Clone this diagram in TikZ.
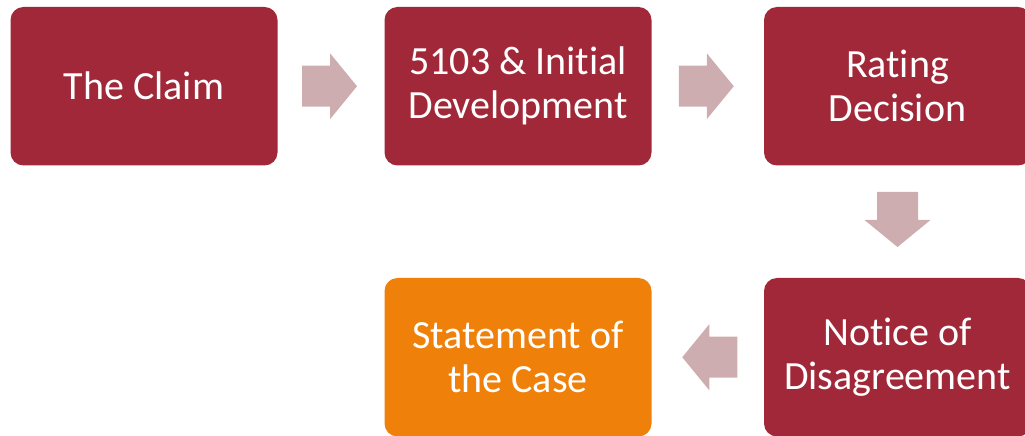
\documentclass[tikz,border=0pt]{standalone}
\usepackage{fontspec}
\setmainfont{Carlito}[Ligatures=NoCommon]
\usetikzlibrary{calc}
\definecolor{boxred}{HTML}{A02838}
\definecolor{boxorange}{HTML}{EF800A}
\definecolor{arrowpink}{HTML}{CEADB0}
\tikzset{
  stagebox/.style={rectangle, rounded corners=13pt, fill=boxred, text=white,
    minimum width=267pt, minimum height=158.5pt, inner sep=0pt, align=center,
    font=\fontsize{40}{44}\selectfont},
  blockarrow/.pic={
    \fill[arrowpink] (-27.5,-20.5) -- (0.5,-20.5) -- (0.5,-33) -- (27.5,0)
      -- (0.5,33) -- (0.5,20.5) -- (-27.5,20.5) -- cycle;
  }
}
\begin{document}
\begin{tikzpicture}[x=1pt,y=1pt]
\useasboundingbox (0,0) rectangle (1025,436);
\node[stagebox] (claim) at (144,349.75) {The Claim};
\node[stagebox] (dev) at (518,349.75) {5103 \& Initial\\Development};
\node[stagebox] (rating) at (897.5,349.75) {Rating\\Decision};
\node[stagebox] (nod) at (897.5,78.75) {Notice of\\Disagreement};
\node[stagebox, fill=boxorange] (soc) at (518,78.75) {Statement of\\the Case};
\pic at ($($(claim.east)!0.5!(dev.west)$)+(-1.5,0)$) {blockarrow};
\pic at ($($(dev.east)!0.5!(rating.west)$)+(-1.5,0)$) {blockarrow};
\pic[rotate=-90] at ($($(rating.south)!0.5!(nod.north)$)+(0,2.25)$) {blockarrow};
\pic[rotate=180] at ($($(nod.west)!0.5!(soc.east)$)+(2,0)$) {blockarrow};
\end{tikzpicture}
\end{document}
